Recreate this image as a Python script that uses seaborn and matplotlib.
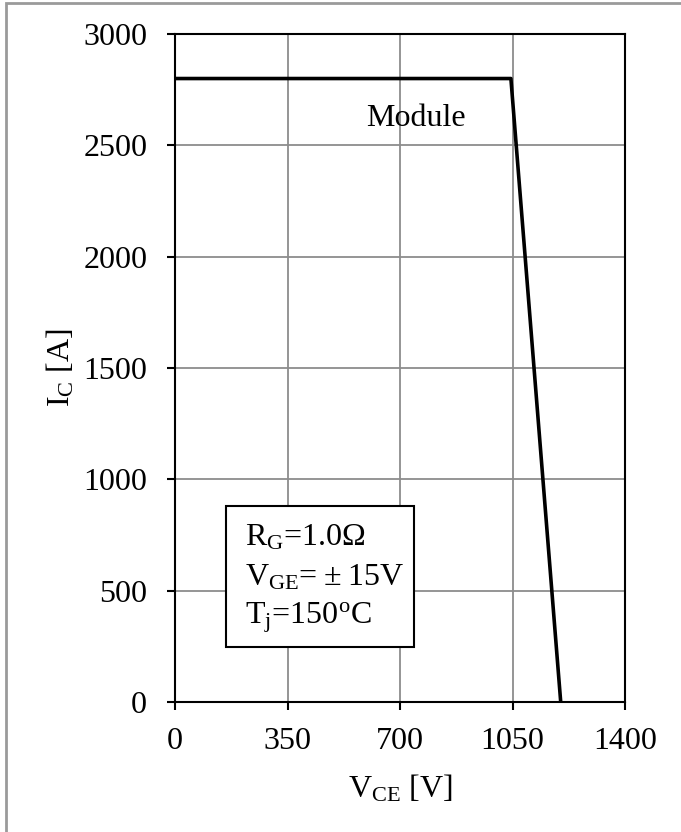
import matplotlib
matplotlib.use("Agg")
import matplotlib.pyplot as plt
import numpy as np
import pandas as pd
import seaborn as sns
from matplotlib.patches import Rectangle

# RBSOA curve (module)
vce = [0, 1045, 1200]
ic = [2800, 2800, 0]

x_ticks = [0, 350, 700, 1050, 1400]
y_ticks = [0, 500, 1000, 1500, 2000, 2500, 3000]

conditions = [
    r"R$_\mathrm{G}$=1.0Ω",
    "V$_\\mathrm{GE}$=\u2009±\u200915V",
    r"T$_\mathrm{j}$=150$^\mathrm{o}$C",
]

sns.set_theme(style="ticks")
plt.rcParams["font.family"] = ["Liberation Serif", "DejaVu Serif"]
plt.rcParams["mathtext.fontset"] = "custom"
plt.rcParams["mathtext.rm"] = "Liberation Serif"
plt.rcParams["mathtext.it"] = "Liberation Serif:italic"
plt.rcParams["mathtext.bf"] = "Liberation Serif:bold"

FS = 23

fig = plt.figure(figsize=(6.81, 8.32), dpi=100)
ax = fig.add_axes([175 / 681, 1 - 702 / 832, 450 / 681, 668 / 832])

df = pd.DataFrame({"VCE": vce, "IC": ic})
sns.lineplot(data=df, x="VCE", y="IC", sort=False, estimator=None,
             color="black", linewidth=2.6, ax=ax)

ax.set_xlim(0, 1400)
ax.set_ylim(0, 3000)
ax.set_xticks(x_ticks)
ax.set_yticks(y_ticks)
ax.grid(True, color="#8c8c8c", linewidth=1.3)
ax.set_axisbelow(True)
for s in ax.spines.values():
    s.set_color("black")
    s.set_linewidth(1.5)
    s.set_visible(True)
ax.tick_params(direction="out", length=6, width=1.5, color="black",
               labelsize=FS, labelcolor="black")
ax.tick_params(axis="y", pad=14)
ax.tick_params(axis="x", pad=12)

ax.set_xlabel(r"V$_\mathrm{CE}$ [V]", fontsize=FS, labelpad=12, color="black")
ax.set_ylabel(r"I$_\mathrm{C}$ [A]", fontsize=FS, labelpad=5, color="black")

ax.text(0.536, 0.873, "Module", transform=ax.transAxes, fontsize=FS,
        ha="center", va="center", color="black")

# condition box
ax.add_patch(Rectangle((0.113, 0.082), 0.418, 0.212, transform=ax.transAxes,
                       fill=True, facecolor="white", edgecolor="black",
                       linewidth=1.5, zorder=3))
for ty, t in zip([0.235, 0.175, 0.118], conditions):
    ax.text(0.156, ty, t, transform=ax.transAxes, fontsize=FS,
            ha="left", va="baseline", color="black", zorder=4)

# outer frame of the figure
fig.patches.append(Rectangle((5.5 / 681, -0.01), 1.0, 1.01 - 2.5 / 832,
                             transform=fig.transFigure, fill=False,
                             edgecolor="#9a9a9a", linewidth=2))

fig.savefig("out.png", dpi=100)
